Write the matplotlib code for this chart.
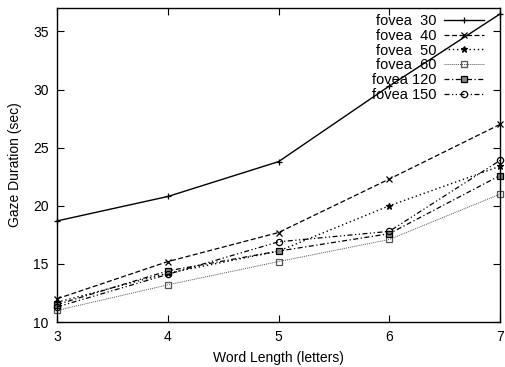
import matplotlib as mpl
import matplotlib.pyplot as plt

mpl.rcParams['font.family'] = ['Liberation Sans', 'DejaVu Sans']

# ------- DATA ------- #
word_length = [3, 4, 5, 6, 7]
fovea_30 = [18.7, 20.8, 23.8, 30.3, 36.5]
fovea_40 = [12.0, 15.2, 17.7, 22.3, 27.0]
fovea_50 = [11.7, 14.2, 16.1, 20.0, 23.4]
fovea_60 = [11.0, 13.2, 15.2, 17.1, 21.0]
fovea_120 = [11.5, 14.4, 16.1, 17.6, 22.6]
fovea_150 = [11.3, 14.1, 16.9, 17.8, 23.9]

labels = ['fovea  30', 'fovea  40', 'fovea  50', 'fovea  60', 'fovea 120', 'fovea 150']
series = [fovea_30, fovea_40, fovea_50, fovea_60, fovea_120, fovea_150]

# ------- STYLES ------- #
styles = [
    dict(ls='-', marker='+', color='black', lw=1.0),
    dict(ls=(0, (4, 2)), marker='x', color='black', lw=0.9),
    dict(ls=(0, (1, 2)), marker='*', color='black', lw=1.0),
    dict(ls=(0, (1, 1)), marker='s', color='#555555', lw=0.7, mfc='none'),
    dict(ls=(0, (4, 2, 1, 2)), marker='s', color='black', lw=0.9, mfc='#888888'),
    dict(ls=(0, (4, 2, 1, 2, 1, 2)), marker='o', color='black', lw=0.9, mfc='none'),
]

fig = plt.figure(figsize=(5.06, 3.67), dpi=100)
ax = fig.add_axes([0.113, 0.1226, 0.875, 0.855])

for y, lab, st in zip(series, labels, styles):
    ax.plot(word_length, y, label=lab, ms=4.5, mew=0.9, clip_on=False, **st)

# axes limits and ticks
ax.set_xlim(3, 7)
ax.set_ylim(10, 37)
ax.set_xticks(word_length)
ax.set_yticks([10, 15, 20, 25, 30, 35])
ax.tick_params(axis='both', direction='in', top=True, right=True,
               length=5, width=0.8, labelsize=10, pad=6)
for spine in ax.spines.values():
    spine.set_linewidth(1.0)

# labels
ax.set_xlabel('Word Length (letters)', fontsize=10, labelpad=5)
ax.set_ylabel('Gaze Duration (sec)', fontsize=10, labelpad=8)

# legend (text first, sample on the right)
ax.legend(loc='upper right', frameon=False, markerfirst=False,
          fontsize=10.5, handlelength=2.75, handletextpad=0.5,
          labelspacing=0.05, borderaxespad=0.0, bbox_to_anchor=(0.977, 1.0))

plt.savefig('out.png', dpi=100)
